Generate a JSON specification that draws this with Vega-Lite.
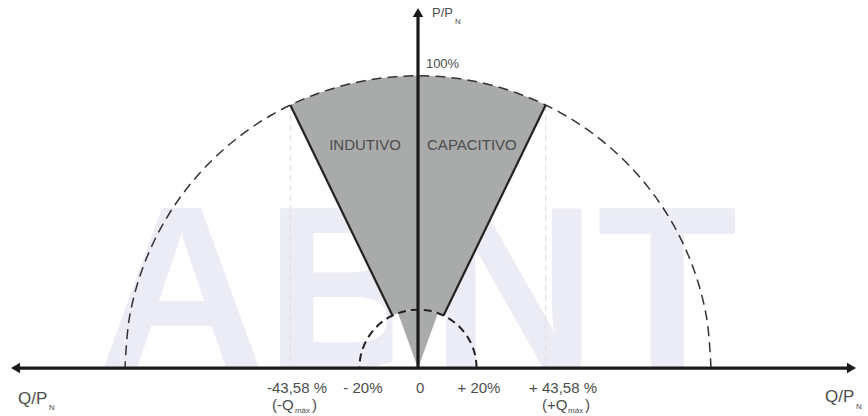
{
  "$schema": "https://vega.github.io/schema/vega-lite/v6.json",
  "width": 868,
  "height": 416,
  "autosize": {"type": "fit", "contains": "padding"},
  "padding": 0,
  "background": "white",
  "config": {"view": {"stroke": null}, "text": {"font": "Liberation Sans"}},
  "encoding": {
    "x": {"field": "x", "type": "quantitative", "scale": {"domain": [-1.4266, 1.5358], "nice": false, "zero": false}, "axis": null},
    "y": {"field": "y", "type": "quantitative", "scale": {"domain": [-0.1604, 1.2594], "nice": false, "zero": false}, "axis": null}
  },
  "layer": [
    {
      "data": {"values": [{"x": 0.0, "y": -0.1604, "text": "ABNT"}]},
      "mark": {"type": "text", "fontSize": 230, "fontWeight": "bold", "color": "#ececf6", "align": "center", "baseline": "bottom"},
      "encoding": {"text": {"field": "text"}}
    },
    {
      "data": {"values": [
        {"x": -0.4358, "y": 0.9, "x2": -0.4358, "y2": 0},
        {"x": 0.4358, "y": 0.9, "x2": 0.4358, "y2": 0}
      ]},
      "mark": {"type": "rule", "color": "#dcdcdc", "strokeWidth": 1, "strokeDash": [6, 4]},
      "encoding": {"x2": {"field": "x2"}, "y2": {"field": "y2"}}
    },
    {
      "data": {"values": [
        {"x": -0.4358, "y": 0.9, "y2": 0.9},
        {"x": -0.4, "y": 0.9165, "y2": 0.8261},
        {"x": -0.35, "y": 0.9367, "y2": 0.7228},
        {"x": -0.3, "y": 0.9539, "y2": 0.6196},
        {"x": -0.25, "y": 0.9682, "y2": 0.5163},
        {"x": -0.2, "y": 0.9798, "y2": 0.413},
        {"x": -0.15, "y": 0.9887, "y2": 0.3098},
        {"x": -0.1, "y": 0.995, "y2": 0.2065},
        {"x": -0.05, "y": 0.9987, "y2": 0.1033},
        {"x": 0, "y": 1.0, "y2": 0},
        {"x": 0.05, "y": 0.9987, "y2": 0.1033},
        {"x": 0.1, "y": 0.995, "y2": 0.2065},
        {"x": 0.15, "y": 0.9887, "y2": 0.3098},
        {"x": 0.2, "y": 0.9798, "y2": 0.413},
        {"x": 0.25, "y": 0.9682, "y2": 0.5163},
        {"x": 0.3, "y": 0.9539, "y2": 0.6196},
        {"x": 0.35, "y": 0.9367, "y2": 0.7228},
        {"x": 0.4, "y": 0.9165, "y2": 0.8261},
        {"x": 0.4358, "y": 0.9, "y2": 0.9}
      ]},
      "mark": {"type": "area", "color": "#a9aaaa", "opacity": 1},
      "encoding": {"y2": {"field": "y2"}}
    },
    {
      "data": {"values": [
        {"x": -0.0872, "y": 0.18},
        {"x": -0.08, "y": 0.1833},
        {"x": -0.06, "y": 0.1908},
        {"x": -0.04, "y": 0.196},
        {"x": -0.02, "y": 0.199},
        {"x": 0, "y": 0.2},
        {"x": 0.02, "y": 0.199},
        {"x": 0.04, "y": 0.196},
        {"x": 0.06, "y": 0.1908},
        {"x": 0.08, "y": 0.1833},
        {"x": 0.0872, "y": 0.18}
      ]},
      "mark": {"type": "area", "color": "white", "opacity": 1},
      "encoding": {"y2": {"datum": 0}}
    },
    {
      "data": {"values": [
        {"x": -0.068, "y": 0.1881, "y2": 0.1881},
        {"x": -0.05, "y": 0.1936, "y2": 0.1383},
        {"x": -0.025, "y": 0.1984, "y2": 0.0692},
        {"x": 0, "y": 0.2, "y2": 0},
        {"x": 0.025, "y": 0.1984, "y2": 0.0692},
        {"x": 0.05, "y": 0.1936, "y2": 0.1383},
        {"x": 0.068, "y": 0.1881, "y2": 0.1881}
      ]},
      "mark": {"type": "area", "color": "#a9aaaa", "opacity": 1},
      "encoding": {"y2": {"field": "y2"}}
    },
    {
      "data": {"values": [
        {"o": 0, "x": 1.0, "y": 0.0},
        {"o": 1, "x": 0.9848, "y": 0.1736},
        {"o": 2, "x": 0.9397, "y": 0.342},
        {"o": 3, "x": 0.866, "y": 0.5},
        {"o": 4, "x": 0.766, "y": 0.6428},
        {"o": 5, "x": 0.6428, "y": 0.766},
        {"o": 6, "x": 0.5, "y": 0.866},
        {"o": 7, "x": 0.342, "y": 0.9397},
        {"o": 8, "x": 0.1736, "y": 0.9848},
        {"o": 9, "x": 0.0, "y": 1.0},
        {"o": 10, "x": -0.1736, "y": 0.9848},
        {"o": 11, "x": -0.342, "y": 0.9397},
        {"o": 12, "x": -0.5, "y": 0.866},
        {"o": 13, "x": -0.6428, "y": 0.766},
        {"o": 14, "x": -0.766, "y": 0.6428},
        {"o": 15, "x": -0.866, "y": 0.5},
        {"o": 16, "x": -0.9397, "y": 0.342},
        {"o": 17, "x": -0.9848, "y": 0.1736},
        {"o": 18, "x": -1.0, "y": 0.0}
      ]},
      "mark": {"type": "line", "color": "#333333", "strokeWidth": 1.5, "strokeDash": [10, 6], "interpolate": "catmull-rom"},
      "encoding": {"order": {"field": "o", "type": "quantitative"}}
    },
    {
      "data": {"values": [
        {"o": 0, "x": 0.2, "y": 0.0},
        {"o": 1, "x": 0.197, "y": 0.0347},
        {"o": 2, "x": 0.1879, "y": 0.0684},
        {"o": 3, "x": 0.1732, "y": 0.1},
        {"o": 4, "x": 0.1532, "y": 0.1286},
        {"o": 5, "x": 0.1286, "y": 0.1532},
        {"o": 6, "x": 0.1, "y": 0.1732},
        {"o": 7, "x": 0.0684, "y": 0.1879},
        {"o": 8, "x": 0.0347, "y": 0.197},
        {"o": 9, "x": 0.0, "y": 0.2},
        {"o": 10, "x": -0.0347, "y": 0.197},
        {"o": 11, "x": -0.0684, "y": 0.1879},
        {"o": 12, "x": -0.1, "y": 0.1732},
        {"o": 13, "x": -0.1286, "y": 0.1532},
        {"o": 14, "x": -0.1532, "y": 0.1286},
        {"o": 15, "x": -0.1732, "y": 0.1},
        {"o": 16, "x": -0.1879, "y": 0.0684},
        {"o": 17, "x": -0.197, "y": 0.0347},
        {"o": 18, "x": -0.2, "y": 0.0}
      ]},
      "mark": {"type": "line", "color": "#222222", "strokeWidth": 2, "strokeDash": [8, 5], "interpolate": "catmull-rom"},
      "encoding": {"order": {"field": "o", "type": "quantitative"}}
    },
    {
      "data": {"values": [
        {"x": -0.4358, "y": 0.9, "x2": -0.0872, "y2": 0.18},
        {"x": 0.4358, "y": 0.9, "x2": 0.0872, "y2": 0.18}
      ]},
      "mark": {"type": "rule", "color": "#222222", "strokeWidth": 2.2},
      "encoding": {"x2": {"field": "x2"}, "y2": {"field": "y2"}}
    },
    {
      "data": {"values": [
        {"x": -1.37, "y": 0, "x2": 1.476, "y2": 0},
        {"x": 0, "y": 0, "x2": 0, "y2": 1.21}
      ]},
      "mark": {"type": "rule", "color": "#1a1a1a", "strokeWidth": 3.2},
      "encoding": {"x2": {"field": "x2"}, "y2": {"field": "y2"}}
    },
    {
      "data": {"values": [{"x": -1.0}, {"x": -0.4358}, {"x": -0.2}, {"x": 0.2}, {"x": 0.4358}, {"x": 1.0}]},
      "mark": {"type": "rule", "color": "#1a1a1a", "strokeWidth": 2},
      "encoding": {"y": {"datum": -0.022}, "y2": {"datum": 0.022}}
    },
    {
      "data": {"values": [{"x": 0, "y": 1.2167}]},
      "mark": {"type": "point", "shape": "triangle-up", "filled": true, "size": 110, "color": "#1a1a1a", "opacity": 1}
    },
    {
      "data": {"values": [{"x": -1.3737, "y": 0}]},
      "mark": {"type": "point", "shape": "triangle-left", "filled": true, "size": 110, "color": "#1a1a1a", "opacity": 1}
    },
    {
      "data": {"values": [{"x": 1.4795, "y": 0}]},
      "mark": {"type": "point", "shape": "triangle-right", "filled": true, "size": 110, "color": "#1a1a1a", "opacity": 1}
    },
    {
      "data": {"values": [
        {"x": -0.181, "y": 0.7645, "text": "INDUTIVO"},
        {"x": 0.184, "y": 0.7645, "text": "CAPACITIVO"},
        {"x": -0.413, "y": -0.068, "text": "-43,58 %"},
        {"x": -0.188, "y": -0.068, "text": "- 20%"},
        {"x": 0.007, "y": -0.068, "text": "0"},
        {"x": 0.208, "y": -0.068, "text": "+ 20%"},
        {"x": 0.495, "y": -0.068, "text": "+ 43,58 %"}
      ]},
      "mark": {"type": "text", "fontSize": 15, "color": "#4d4d4d", "align": "center", "baseline": "middle"},
      "encoding": {"text": {"field": "text"}}
    },
    {
      "data": {"values": [
        {"x": -0.498, "y": -0.126, "text": "(-Q"},
        {"x": -0.362, "y": -0.126, "text": ")"},
        {"x": 0.423, "y": -0.126, "text": "(+Q"},
        {"x": 0.57, "y": -0.126, "text": ")"}
      ]},
      "mark": {"type": "text", "fontSize": 15, "color": "#4d4d4d", "align": "left", "baseline": "middle"},
      "encoding": {"text": {"field": "text"}}
    },
    {
      "data": {"values": [
        {"x": -0.42, "y": -0.147, "text": "máx"},
        {"x": 0.512, "y": -0.147, "text": "máx"},
        {"x": -1.259, "y": -0.137, "text": "N"},
        {"x": 1.495, "y": -0.133, "text": "N"},
        {"x": 0.126, "y": 1.183, "text": "N"}
      ]},
      "mark": {"type": "text", "fontSize": 8, "color": "#4d4d4d", "align": "left", "baseline": "middle"},
      "encoding": {"text": {"field": "text"}}
    },
    {
      "data": {"values": [
        {"x": -1.365, "y": -0.106, "text": "Q/P"},
        {"x": 1.389, "y": -0.099, "text": "Q/P"}
      ]},
      "mark": {"type": "text", "fontSize": 17, "color": "#4d4d4d", "align": "left", "baseline": "middle"},
      "encoding": {"text": {"field": "text"}}
    },
    {
      "data": {"values": [
        {"x": 0.048, "y": 1.215, "text": "P/P"},
        {"x": 0.027, "y": 1.041, "text": "100%"}
      ]},
      "mark": {"type": "text", "fontSize": 13, "color": "#4d4d4d", "align": "left", "baseline": "middle"},
      "encoding": {"text": {"field": "text"}}
    }
  ]
}
